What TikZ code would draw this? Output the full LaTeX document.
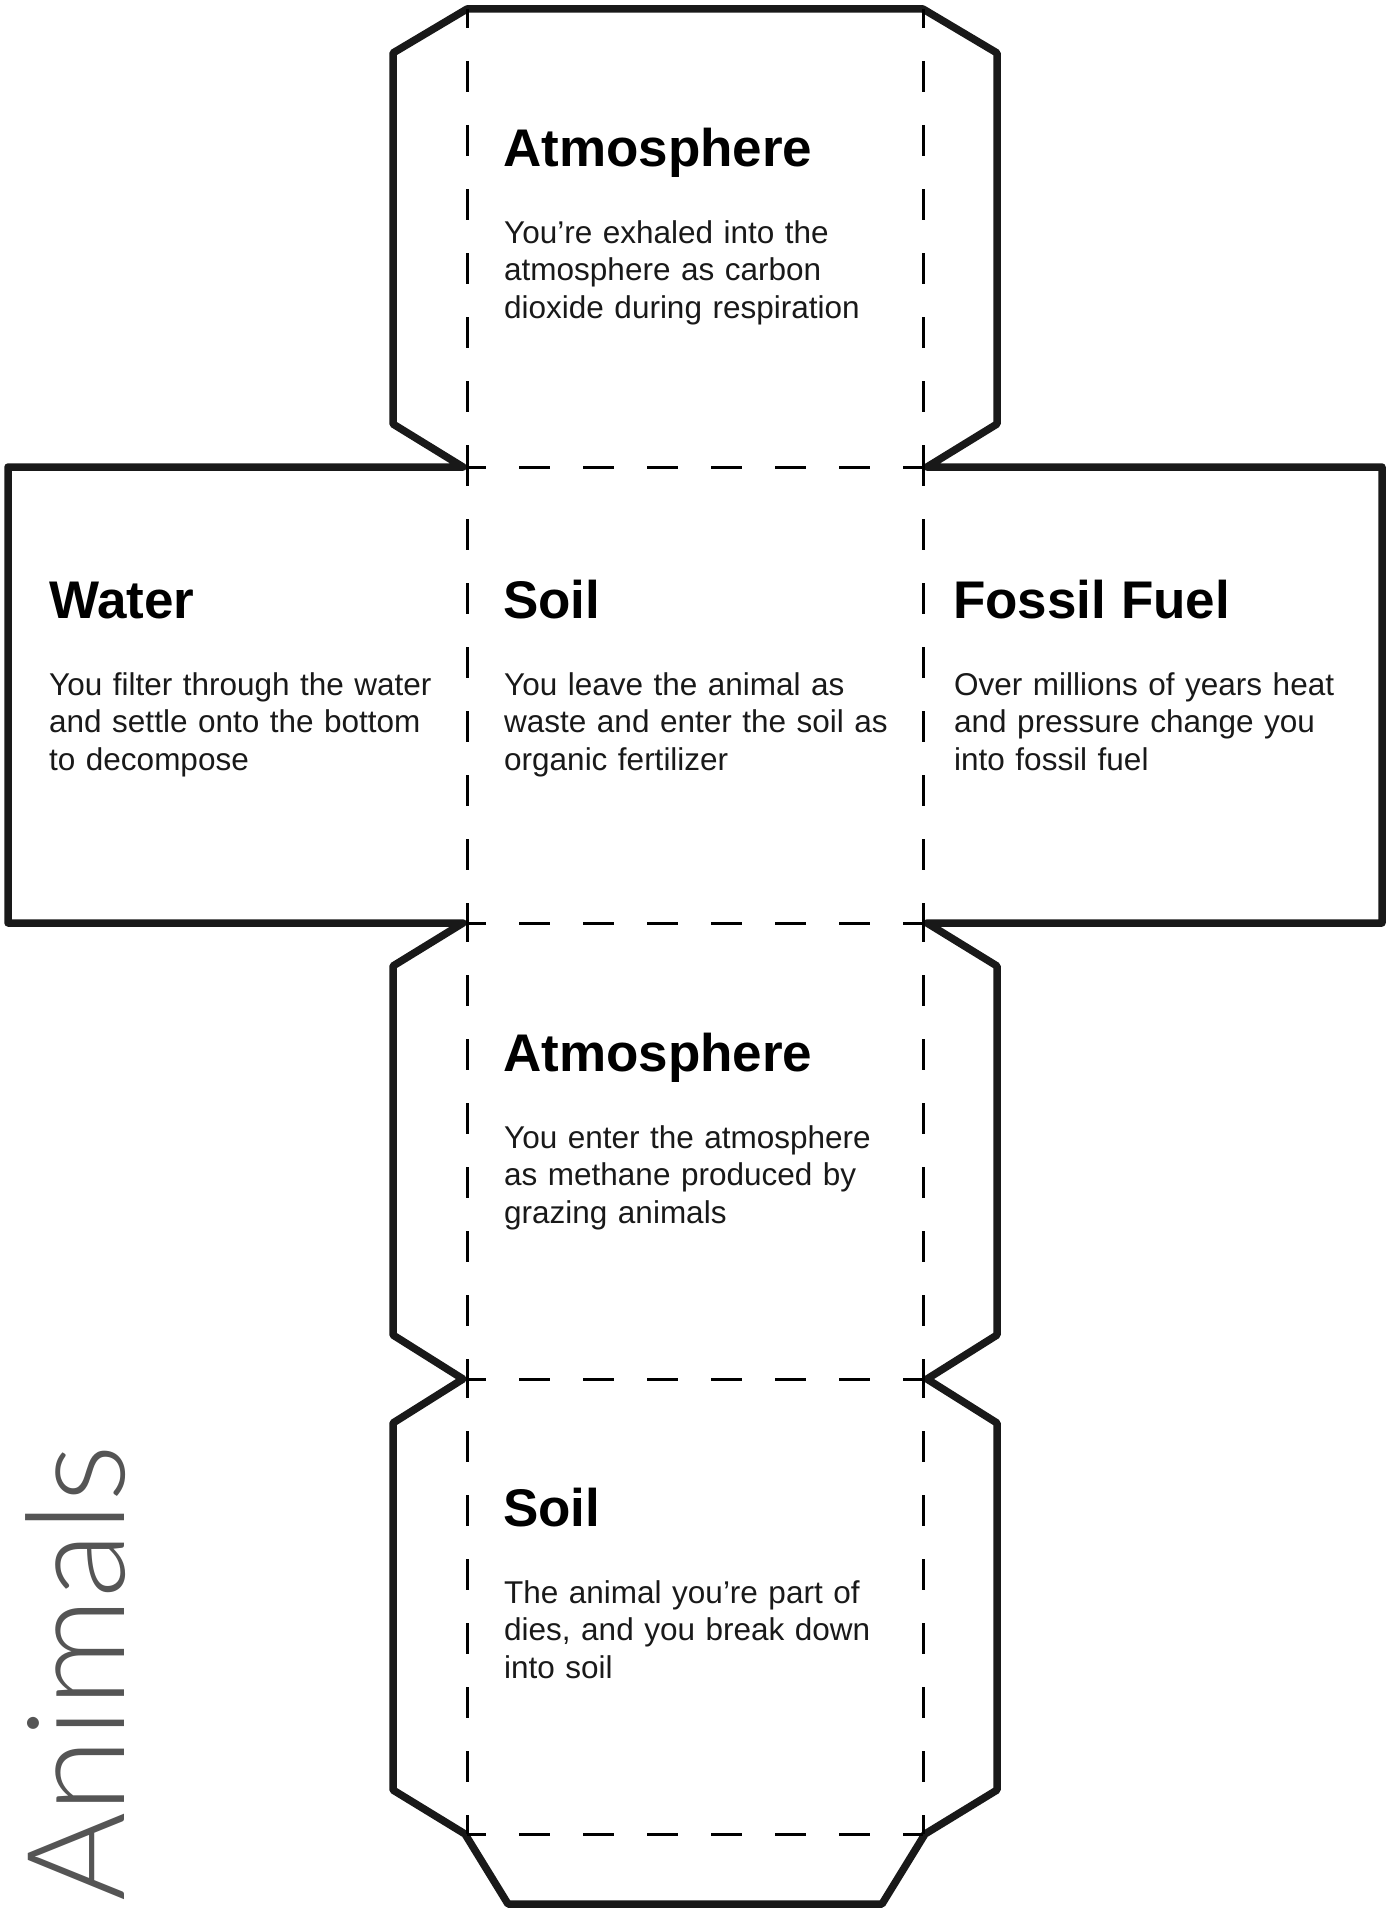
\documentclass[tikz,border=0pt]{standalone}
\usepackage{fontspec}
\setmainfont{Liberation Sans}
\newfontfamily\lightfont{Lato Light}
\definecolor{inkgray}{RGB}{85,85,85}
\begin{document}
\begin{tikzpicture}[x=1pt,y=-1pt,
  outline/.style={line width=7.5pt,line join=round,draw=black!90},
  foldline/.style={line width=3pt,dash pattern=on 31pt off 33pt,dash phase=12pt,draw=black},
  facetitle/.style={anchor=base west,inner sep=0pt,font=\fontsize{53pt}{60pt}\selectfont\bfseries},
  facebody/.style={anchor=base west,inner sep=0pt,text width=430pt,align=left,text=black!90,font=\fontsize{31.5pt}{37.5pt}\selectfont}]
\useasboundingbox (0,0) rectangle (1389,1908);
% grid coordinates
\coordinate (a0) at (467,9);   \coordinate (b0) at (923,9);
\coordinate (a1) at (467,467); \coordinate (b1) at (923,467);
\coordinate (a2) at (467,923); \coordinate (b2) at (923,923);
\coordinate (a3) at (467,1379);\coordinate (b3) at (923,1379);
\coordinate (a4) at (467,1834);\coordinate (b4) at (923,1834);
% outline of the net
\draw[outline] (a0) -- (b0) -- (997,53) -- (997,424) -- (927,467) -- (1382,467) -- (1382,923)
  -- (927,923) -- (997,966) -- (997,1335) -- (927,1379) -- (997,1423) -- (997,1790)
  -- (925,1834) -- (882,1904) -- (508,1904) -- (465,1834) -- (393,1790) -- (393,1423)
  -- (463,1379) -- (393,1335) -- (393,966) -- (463,923) -- (8,923) -- (8,467) -- (463,467)
  -- (393,424) -- (393,53) -- cycle;
% fold lines
\foreach \i/\j in {0/1,1/2,2/3,3/4}{
  \draw[foldline] (a\i) -- (a\j);
  \draw[foldline] (b\i) -- (b\j);
}
\foreach \i in {1,2,3,4}{
  \draw[foldline] (a\i) -- (b\i);
}
% texts
\node[facetitle] (t1) at (503,166) {Atmosphere};
\node[facebody] (d1) at (504,243) {You’re exhaled into the\\atmosphere as carbon\\dioxide during respiration};
\node[facetitle] (t2) at (49,618) {Water};
\node[facebody] (d2) at (49,695) {You filter through the water\\and settle onto the bottom\\to decompose};
\node[facetitle] (t3) at (503,618) {Soil};
\node[facebody] (d3) at (504,695) {You leave the animal as\\waste and enter the soil as\\organic fertilizer};
\node[facetitle] (t4) at (953,618) {Fossil Fuel};
\node[facebody] (d4) at (954,695) {Over millions of years heat\\and pressure change you\\into fossil fuel};
\node[facetitle] (t5) at (503,1071) {Atmosphere};
\node[facebody] (d5) at (504,1148) {You enter the atmosphere\\as methane produced by\\grazing animals};
\node[facetitle] (t6) at (503,1526) {Soil};
\node[facebody] (d6) at (504,1603) {The animal you’re part of\\dies, and you break down\\into soil};
\node[rotate=90,anchor=base west,inner sep=0pt,text=inkgray,font=\fontsize{136pt}{150pt}\lightfont] (cat) at (124,1902) {Animals};
\end{tikzpicture}
\end{document}
